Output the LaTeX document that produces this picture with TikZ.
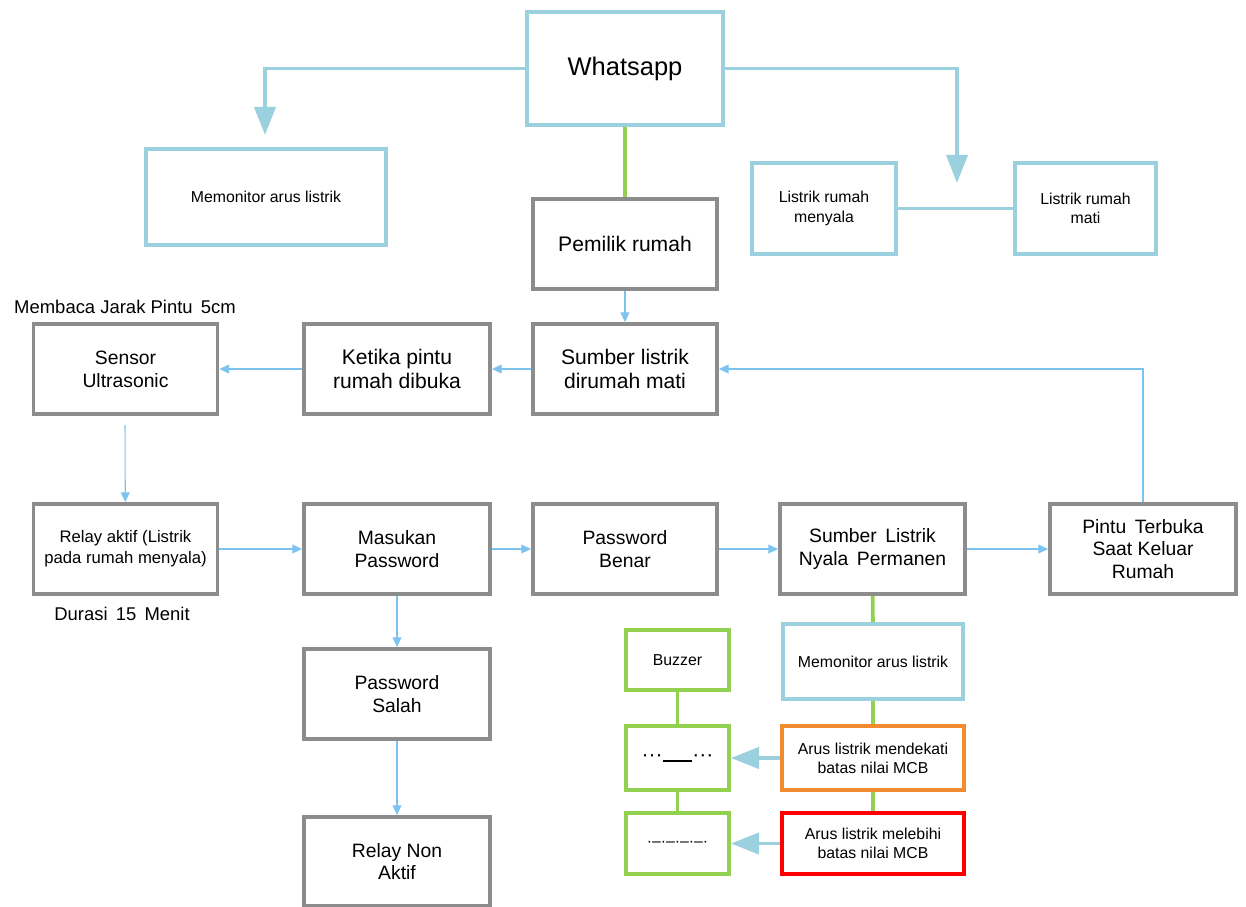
\documentclass[tikz,border=0pt]{standalone}
\usepackage{fontspec}
\setmainfont{Liberation Sans}
\usetikzlibrary{arrows.meta,positioning}
\definecolor{waBlue}{HTML}{9BD0DE}
\definecolor{boxGray}{HTML}{8C8C8C}
\definecolor{lnGreen}{HTML}{92D050}
\definecolor{arOrange}{HTML}{F28A30}
\definecolor{arRed}{HTML}{FF0000}
\definecolor{thinBlue}{HTML}{7DC3F0}
\tikzstyle{box}=[draw,line width=2.2pt,align=center,inner sep=2pt]
\tikzstyle{bluebox}=[box,draw=waBlue,font=\fontsize{9}{11}\selectfont]
\tikzstyle{graybox}=[box,draw=boxGray,minimum width=3.68cm,minimum height=1.8cm,font=\fontsize{11}{13}\selectfont]
\tikzstyle{greenbox}=[box,draw=lnGreen,minimum width=2.06cm,font=\fontsize{9}{11}\selectfont]
\tikzstyle{thick link}=[draw=waBlue,line width=2.2pt,-{Triangle[width=12pt,length=16pt]}]
\tikzstyle{thin link}=[draw=thinBlue,line width=0.6pt,-{Triangle[width=5pt,length=5.5pt]}]
\tikzstyle{green link}=[draw=lnGreen,line width=2.2pt]

\begin{document}
\begin{tikzpicture}
        \useasboundingbox (0,0) rectangle (24.92,-18.12);

        % top part
        \node[bluebox,minimum width=3.92cm,minimum height=2.26cm,font=\fontsize{14.5}{17}\selectfont] at (12.5,-1.37) (wa) {Whatsapp};
        \node[bluebox,minimum width=4.8cm,minimum height=1.92cm] at (5.32,-3.94) (montop) {Memonitor arus listrik};
        \node[bluebox,minimum width=2.88cm,minimum height=1.82cm] at (16.48,-4.17) (menyala) {Listrik rumah\\menyala};
        \node[bluebox,minimum width=2.82cm,minimum height=1.82cm] at (21.71,-4.17) (mati) {Listrik rumah\\mati};
        \coordinate (leftTip) at (5.3,-2.7);
        \coordinate (rightTip) at (19.14,-3.66);

        \node[graybox,font=\fontsize{12}{14}\selectfont] at (12.5,-4.88) (pemilik) {Pemilik rumah};
        \node[graybox,font=\fontsize{12}{14}\selectfont] at (12.5,-7.38) (sumbermati) {Sumber listrik\\dirumah mati};
        \node[graybox,font=\fontsize{12}{14}\selectfont,minimum width=3.72cm] at (7.94,-7.38) (ketika) {Ketika pintu\\rumah dibuka};
        \node[graybox] at (2.51,-7.38) (sensor) {Sensor\\Ultrasonic};
        \node[font=\fontsize{10.5}{12}\selectfont] at (2.5,-6.14) (jarak) {Membaca Jarak Pintu\, 5cm};
        \coordinate (sensorOut) at (2.5,-8.5);

        % middle row
        \node[graybox,font=\fontsize{9.5}{12}\selectfont] at (2.51,-10.98) (relay) {Relay aktif (Listrik\\pada rumah menyala)};
        \node[font=\fontsize{10.5}{12}\selectfont] at (2.44,-12.28) (durasi) {Durasi\, 15\, Menit};
        \node[graybox,minimum width=3.72cm] at (7.94,-10.98) (masuk) {Masukan\\Password};
        \node[graybox] at (12.5,-10.98) (benar) {Password\\Benar};
        \node[graybox,minimum width=3.7cm] at (17.45,-10.98) (nyala) {Sumber\, Listrik\\Nyala\, Permanen};
        \node[graybox,minimum width=3.72cm] at (22.86,-10.98) (pintu) {Pintu\, Terbuka\\Saat Keluar\\Rumah};

        \node[graybox,minimum width=3.72cm] at (7.94,-13.88) (salah) {Password\\Salah};
        \node[graybox,minimum width=3.72cm,minimum height=1.78cm] at (7.94,-17.23) (nonaktif) {Relay Non\\Aktif};

        % monitoring
        \node[bluebox,minimum width=3.6cm,minimum height=1.5cm] at (17.46,-13.23) (monbot) {Memonitor arus listrik};
        \node[box,draw=arOrange,minimum width=3.64cm,minimum height=1.28cm,font=\fontsize{9}{11}\selectfont] at (17.46,-15.16) (dekat) {Arus listrik mendekati\\batas nilai MCB};
        \node[box,draw=arRed,minimum width=3.64cm,minimum height=1.22cm,font=\fontsize{9}{11}\selectfont] at (17.46,-16.87) (lebih) {Arus listrik melebihi\\batas nilai MCB};
        \node[greenbox,minimum height=1.2cm] at (13.55,-13.2) (buzzer) {Buzzer};
        \node[greenbox,minimum height=1.28cm,font=\fontsize{12}{14}\selectfont] at (13.55,-15.16) (dots) {···\rule[-0.5pt]{1.4em}{0.8pt}···};
        \node[greenbox,minimum height=1.22cm,font=\fontsize{9}{11}\selectfont] at (13.55,-16.87) (dash) {·–·–·–·–·};

        \draw[thick link] (wa.west) -| (leftTip);
        \draw[thick link] (wa.east) -| (rightTip);
        \draw[draw=waBlue,line width=2.2pt] (menyala) -- (mati);
        \draw[green link] (wa) -- (pemilik);

        \draw[thin link] (pemilik) -- (sumbermati);
        \draw[thin link] (sumbermati) -- (ketika);
        \draw[thin link] (ketika) -- (sensor);
        \draw[thin link] (sensorOut) -- (relay);
        \draw[thin link] (relay) -- (masuk);
        \draw[thin link] (masuk) -- (benar);
        \draw[thin link] (benar) -- (nyala);
        \draw[thin link] (nyala) -- (pintu);
        \draw[thin link] (pintu.north) |- (sumbermati.east);
        \draw[thin link] (masuk) -- (salah);
        \draw[thin link] (salah) -- (nonaktif);

        \draw[green link] (nyala) -- (monbot);
        \draw[green link] (monbot) -- (dekat);
        \draw[green link] (dekat) -- (lebih);
        \draw[green link] (buzzer) -- (dots);
        \draw[green link] (dots) -- (dash);
        \draw[thick link] (dekat) -- (dots);
        \draw[thick link] (lebih) -- (dash);
      \end{tikzpicture}
\end{document}
